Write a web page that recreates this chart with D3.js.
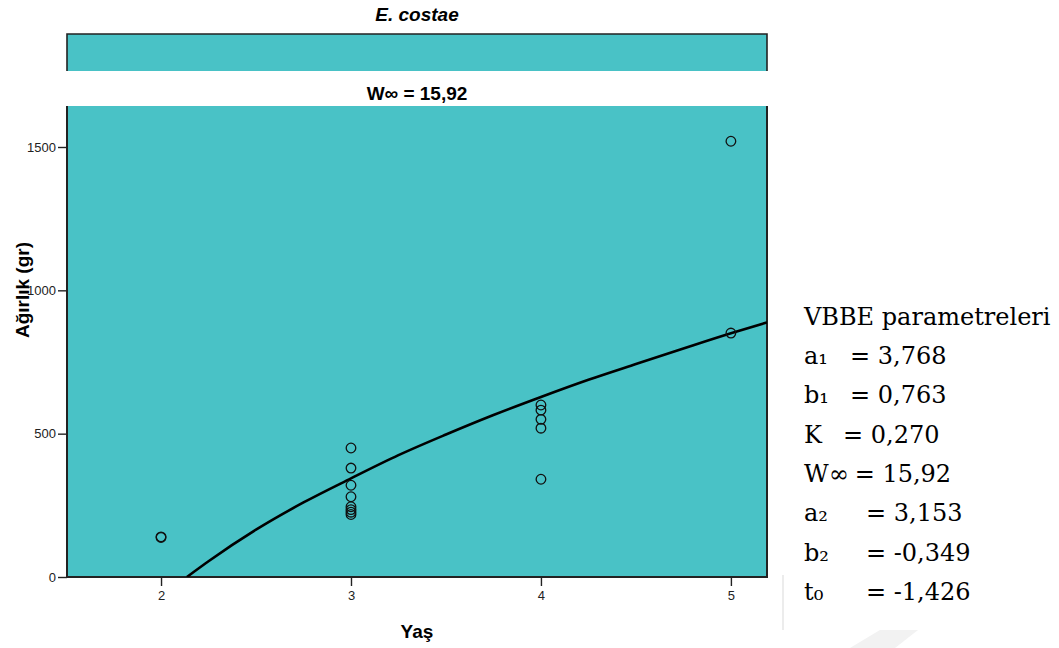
<!DOCTYPE html>
<html>
<head>
<meta charset="utf-8">
<script src="https://cdn.jsdelivr.net/npm/d3@7"></script>
<style>
  body { margin: 0; background: #fff; }
  svg text { font-family: "Liberation Sans", Arial, sans-serif; }
</style>
</head>
<body>
<svg id="plot" width="1059" height="648"></svg>
<script>
// observed points (age, weight in g)
const ages    = [2, 2, 3, 3, 3, 3, 3, 3, 3, 3, 4, 4, 4, 4, 4, 5, 5];
const weights = [140, 138, 450, 380, 320, 280, 245, 235, 226, 218, 600, 582, 550, 519, 341, 1520, 851];

// fitted growth curve
const curveAge    = [2.136, 2.25, 2.5, 2.75, 3, 3.25, 3.5, 3.75, 4, 4.25, 4.5, 4.75, 5, 5.19];
const curveWeight = [0, 55, 165, 260, 344, 425, 497, 565, 628, 688, 743, 797, 850, 888];

const xTicks = [2, 3, 4, 5];
const yTicks = [0, 500, 1000, 1500];

const paramLabels = ["a\u2081", "b\u2081", "K", "W\u221E", "a\u2082", "b\u2082", "t\u2080"];
const paramValues = ["= 3,768", "= 0,763", "= 0,270", "= 15,92", "= 3,153", "= -0,349", "= -1,426"];

const svg = d3.select("#plot");
const pLeft = 67, pRight = 767, pTop = 106, pBottom = 577;
const fill = "#49c2c6";

const x = d3.scaleLinear().domain([1.505, 5.19]).range([pLeft, pRight]);
const y = d3.scaleLinear().domain([0, 1643]).range([pBottom, pTop]);

// title
svg.append("text")
  .attr("x", 417).attr("y", 21)
  .attr("text-anchor", "middle")
  .style("font-size", "19px").style("font-weight", "bold").style("font-style", "italic")
  .text("E. costae");

// upper strip
svg.append("rect")
  .attr("x", pLeft).attr("y", 34).attr("width", pRight - pLeft).attr("height", 37)
  .attr("fill", fill);
svg.append("path")
  .attr("d", `M${pLeft},71V34H${pRight}V71`)
  .attr("fill", "none").attr("stroke", "#222").attr("stroke-width", 1.6);

svg.append("text")
  .attr("x", 417).attr("y", 100)
  .attr("text-anchor", "middle")
  .style("font-size", "19px").style("font-weight", "bold")
  .text("W\u221E = 15,92");

// main panel
svg.append("rect")
  .attr("x", pLeft).attr("y", pTop).attr("width", pRight - pLeft).attr("height", pBottom - pTop)
  .attr("fill", fill);

// y axis
const yAxis = svg.append("g")
  .attr("transform", `translate(${pLeft},0)`)
  .call(d3.axisLeft(y).tickValues(yTicks).tickSize(9).tickPadding(2).tickFormat(d3.format("d")));
yAxis.select(".domain").remove();
yAxis.selectAll("line").attr("stroke", "#222").attr("stroke-width", 1.4);
yAxis.selectAll("text").style("font-size", "13px").attr("fill", "#222")
  .style("font-family", "'Liberation Sans', Arial, sans-serif");

// x axis
const xAxis = svg.append("g")
  .attr("transform", `translate(0,${pBottom})`)
  .call(d3.axisBottom(x).tickValues(xTicks).tickSize(9).tickPadding(5).tickFormat(d3.format("d")));
xAxis.select(".domain").remove();
xAxis.selectAll("line").attr("stroke", "#222").attr("stroke-width", 1.4);
xAxis.selectAll("text").style("font-size", "13px").attr("fill", "#222")
  .style("font-family", "'Liberation Sans', Arial, sans-serif");

// panel frame (left, bottom, right)
svg.append("path")
  .attr("d", `M${pLeft},${pTop}V${pBottom}H${pRight}V${pTop}`)
  .attr("fill", "none").attr("stroke", "#222").attr("stroke-width", 2);

// axis titles
svg.append("text")
  .attr("transform", `translate(29,290) rotate(-90)`)
  .attr("text-anchor", "middle")
  .style("font-size", "19px").style("font-weight", "bold")
  .text("Ağırlık (gr)");

svg.append("text")
  .attr("x", 417).attr("y", 638)
  .attr("text-anchor", "middle")
  .style("font-size", "19px").style("font-weight", "bold")
  .text("Yaş");

// fitted curve
const curveData = curveAge.map((a, i) => ({ age: a, w: curveWeight[i] }));
svg.append("clipPath").attr("id", "clip")
  .append("rect").attr("x", pLeft).attr("y", pTop).attr("width", pRight - pLeft).attr("height", pBottom - pTop);
svg.append("path")
  .datum(curveData)
  .attr("clip-path", "url(#clip)")
  .attr("fill", "none").attr("stroke", "#000").attr("stroke-width", 2.6)
  .attr("d", d3.line().x(d => x(d.age)).y(d => y(d.w)).curve(d3.curveMonotoneX));

// points
const pts = ages.map((a, i) => ({ age: a, w: weights[i] }));
svg.selectAll(".pt")
  .data(pts)
  .enter().append("circle")
  .attr("class", "pt")
  .attr("cx", d => x(d.age))
  .attr("cy", d => y(d.w))
  .attr("r", 4.8)
  .attr("fill", "none").attr("stroke", "#111").attr("stroke-width", 1.3);

// faint page marks
svg.append("line")
  .attr("x1", 783).attr("x2", 783).attr("y1", 575).attr("y2", 630)
  .attr("stroke", "#e6e6e6").attr("stroke-width", 1.5);
svg.append("path")
  .attr("d", "M850,648L880,630H918L895,648Z")
  .attr("fill", "#f2f2f2");

// parameter block
const params = svg.append("g");
params.append("text")
  .attr("x", 804).attr("y", 325)
  .style("font-family", "'DejaVu Serif', serif")
  .style("font-size", "24px")
  .text("VBBE parametreleri");

const valueX = [850, 850, 843, 843, 866, 866, 866];
paramLabels.forEach((lab, i) => {
  const by = 364 + i * 39.3;
  const labText = params.append("text")
    .attr("x", 804).attr("y", by)
    .style("font-family", "'DejaVu Serif', serif")
    .style("font-size", "24px")
    .text(lab);
  const labEnd = 804 + labText.node().getComputedTextLength();
  params.append("text")
    .attr("x", Math.max(valueX[i], labEnd + 6)).attr("y", by)
    .style("font-family", "'DejaVu Serif', serif")
    .style("font-size", "24px")
    .text(paramValues[i]);
});
</script>
</body>
</html>
